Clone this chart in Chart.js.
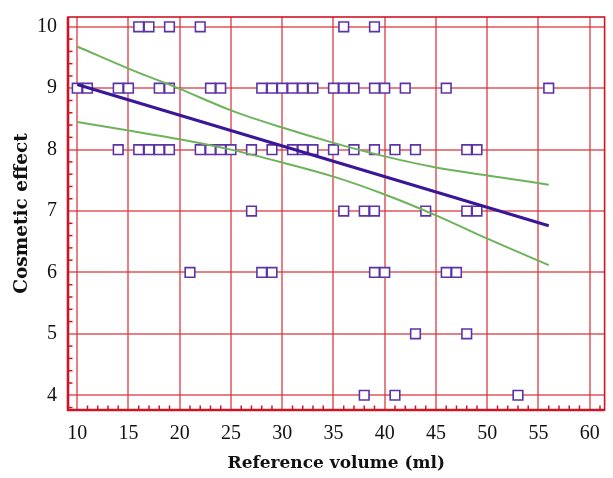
<!DOCTYPE html>
<html>
<head>
<meta charset="utf-8">
<script src="https://cdn.jsdelivr.net/npm/chart.js@4/dist/chart.umd.min.js"></script>
<style>
    html, body { margin: 0; padding: 0; background: #fff; }
    #wrap { width: 613px; height: 478px; position: relative; }
</style>
</head>
<body>
<div id="wrap"><canvas id="volumeChart"></canvas></div>
<script>
// Observations: reference volume (ml) vs cosmetic effect score
const volumeX = [
    16, 17, 19, 22, 36, 39,
    10, 11, 14, 15, 18, 19, 23, 24, 28, 29, 30, 31, 32, 33, 35, 36, 37, 39, 40, 42, 46, 56,
    14, 16, 17, 18, 19, 22, 23, 24, 25, 27, 29, 31, 32, 33, 35, 37, 39, 41, 43, 48, 49,
    27, 36, 38, 39, 44, 48, 49,
    21, 28, 29, 39, 40, 46, 47,
    43, 48,
    38, 41, 53
];
const effectY = [
    10, 10, 10, 10, 10, 10,
    9, 9, 9, 9, 9, 9, 9, 9, 9, 9, 9, 9, 9, 9, 9, 9, 9, 9, 9, 9, 9, 9,
    8, 8, 8, 8, 8, 8, 8, 8, 8, 8, 8, 8, 8, 8, 8, 8, 8, 8, 8, 8, 8,
    7, 7, 7, 7, 7, 7, 7,
    6, 6, 6, 6, 6, 6, 6,
    5, 5,
    4, 4, 4
];

// Regression line and confidence band
const fitX = [10, 56];
const fitY = [9.06, 6.76];
const bandX = [10, 15, 20, 25, 30, 35, 40, 45, 50, 56];
const bandUpper = [9.68, 9.32, 8.99, 8.64, 8.36, 8.11, 7.89, 7.71, 7.58, 7.43];
const bandLower = [8.45, 8.31, 8.17, 8.00, 7.79, 7.56, 7.27, 6.93, 6.55, 6.12];

const xTicks = [10, 15, 20, 25, 30, 35, 40, 45, 50, 55, 60];
const yTicks = [4, 5, 6, 7, 8, 9, 10];

const RED = '#cc1626';
const GRID = 'rgba(214, 50, 56, 0.62)';

function toPoints(xs, ys) {
    return xs.map((x, i) => ({ x: x, y: ys[i] }));
}

// Frame and inward minor ticks
const framePlugin = {
    id: 'frame',
    afterDatasetsDraw(chart) {
        const { ctx, chartArea: a, scales } = chart;
        ctx.save();
        ctx.strokeStyle = RED;
        ctx.lineWidth = 1.5;
        // minor ticks on the y axis every 0.2
        for (let v = 3.8; v <= 10.2; v += 0.2) {
            const r = Math.round(v * 10) / 10;
            if (Math.abs(r - Math.round(r)) < 0.01) continue;
            const py = scales.y.getPixelForValue(r);
            if (py < a.top || py > a.bottom) continue;
            ctx.beginPath();
            ctx.moveTo(a.left, py);
            ctx.lineTo(a.left + 4.5, py);
            ctx.stroke();
        }
        // minor ticks on the x axis every 1
        for (let v = 9; v <= 61; v++) {
            if (v % 5 === 0) continue;
            const px = scales.x.getPixelForValue(v);
            if (px < a.left || px > a.right) continue;
            ctx.beginPath();
            ctx.moveTo(px, a.bottom);
            ctx.lineTo(px, a.bottom - 4.5);
            ctx.stroke();
        }
        ctx.lineWidth = 1.6;
        ctx.strokeRect(a.left, a.top, a.right - a.left, a.bottom - a.top);
        ctx.lineWidth = 2.6;
        ctx.beginPath();
        ctx.moveTo(a.left, a.top);
        ctx.lineTo(a.left, a.bottom);
        ctx.lineTo(a.right, a.bottom);
        ctx.stroke();
        ctx.restore();
    }
};

const ctx = document.getElementById('volumeChart');
new Chart(ctx.getContext('2d'), {
    type: 'scatter',
    data: {
        datasets: [{
            label: 'Regression',
            type: 'line',
            data: toPoints(fitX, fitY),
            borderColor: '#3a1796',
            borderWidth: 3,
            pointRadius: 0,
            fill: false
        }, {
            label: 'Upper 95% CI',
            type: 'line',
            data: toPoints(bandX, bandUpper),
            borderColor: '#6cb35c',
            borderWidth: 2,
            pointRadius: 0,
            cubicInterpolationMode: 'monotone',
            fill: false
        }, {
            label: 'Lower 95% CI',
            type: 'line',
            data: toPoints(bandX, bandLower),
            borderColor: '#6cb35c',
            borderWidth: 2,
            pointRadius: 0,
            cubicInterpolationMode: 'monotone',
            fill: false
        }, {
            label: 'Observations',
            data: toPoints(volumeX, effectY),
            pointStyle: 'rect',
            pointRadius: 6.8,
            pointBorderWidth: 1.6,
            pointBorderColor: '#5b33a8',
            pointBackgroundColor: '#ffffff'
        }]
    },
    options: {
        responsive: true,
        maintainAspectRatio: false,
        animation: false,
        layout: {
            padding: { left: 0, right: 4, top: 17, bottom: 0 }
        },
        plugins: {
            legend: { display: false },
            tooltip: { enabled: false }
        },
        scales: {
            x: {
                type: 'linear',
                min: 9.1,
                max: 61.45,
                afterBuildTicks: scale => { scale.ticks = xTicks.map(v => ({ value: v })); },
                afterFit: scale => {
                    scale.height = 68;
                    scale.paddingLeft = 0;
                    scale.paddingRight = 0;
                },
                grid: { color: GRID, lineWidth: 2, drawTicks: false },
                border: { display: false },
                ticks: {
                    padding: 12,
                    color: '#111',
                    font: { family: 'Liberation Serif', size: 20 }
                },
                title: {
                    display: true,
                    text: 'Reference volume (ml)',
                    color: '#111',
                    padding: { top: 9 },
                    font: { family: 'DejaVu Serif', size: 17, weight: 'bold' }
                }
            },
            y: {
                type: 'linear',
                min: 3.76,
                max: 10.16,
                afterBuildTicks: scale => { scale.ticks = yTicks.map(v => ({ value: v })); },
                afterFit: scale => {
                    scale.width = 68;
                    scale.paddingTop = 0;
                    scale.paddingBottom = 0;
                },
                grid: { color: GRID, lineWidth: 2, drawTicks: false },
                border: { display: false },
                ticks: {
                    padding: 11,
                    color: '#111',
                    font: { family: 'Liberation Serif', size: 20 }
                },
                title: {
                    display: true,
                    text: 'Cosmetic effect',
                    color: '#111',
                    padding: { top: 11, bottom: 7 },
                    font: { family: 'DejaVu Serif', size: 18.5, weight: 'bold' }
                }
            }
        }
    },
    plugins: [framePlugin]
});
</script>
</body>
</html>
